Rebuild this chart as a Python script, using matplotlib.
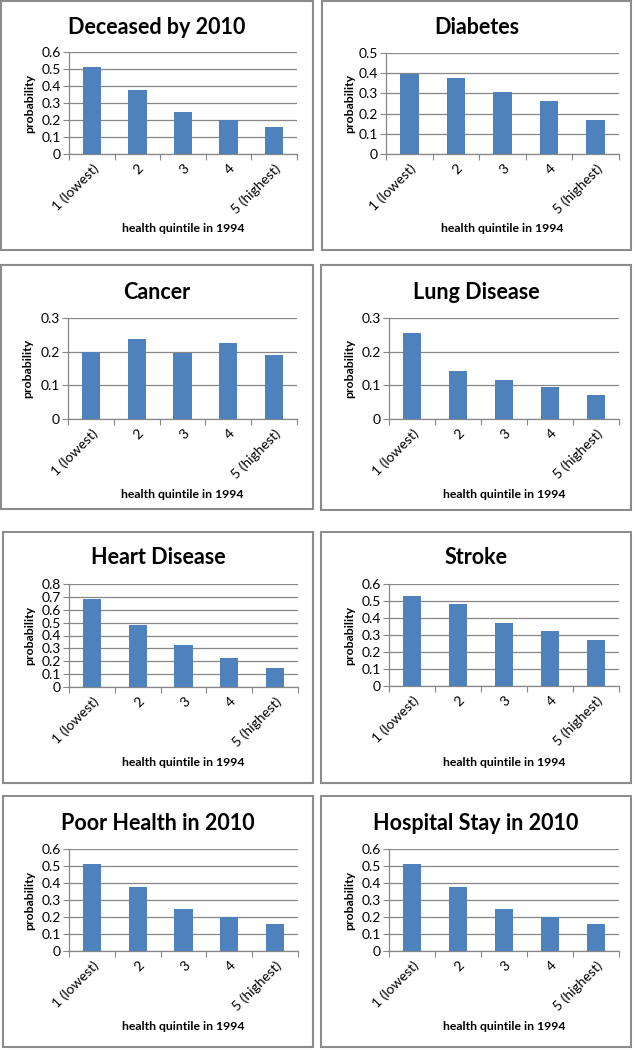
import matplotlib
matplotlib.use("Agg")
import matplotlib.pyplot as plt
from matplotlib.patches import Rectangle

plt.rcParams['font.family'] = ['Lato', 'DejaVu Sans']

# data
categories = ["1 (lowest)", "2", "3", "4", "5 (highest)"]
titles = ["Deceased by 2010", "Diabetes", "Cancer", "Lung Disease",
          "Heart Disease", "Stroke", "Poor Health in 2010", "Hospital Stay in 2010"]
deceased = [0.51, 0.375, 0.25, 0.20, 0.16]
diabetes = [0.397, 0.375, 0.305, 0.264, 0.167]
cancer = [0.198, 0.239, 0.195, 0.226, 0.191]
lung = [0.256, 0.142, 0.115, 0.094, 0.071]
heart = [0.685, 0.482, 0.323, 0.224, 0.146]
stroke = [0.531, 0.48, 0.37, 0.321, 0.272]
poor_health = [0.51, 0.375, 0.25, 0.20, 0.16]
hospital = [0.51, 0.375, 0.25, 0.20, 0.16]
series = [deceased, diabetes, cancer, lung, heart, stroke, poor_health, hospital]
ymax = [0.6, 0.5, 0.3, 0.3, 0.8, 0.6, 0.6, 0.6]
ystep = [0.1, 0.1, 0.1, 0.1, 0.1, 0.1, 0.1, 0.1]

W, H = 635, 1050
fig = plt.figure(figsize=(W / 100, H / 100), dpi=100)

# pixel layout: panel box, plot area, title / xlabel / ylabel positions
boxes = [(1, 1, 313, 250), (322, 1, 631, 250),
         (1, 265, 313, 509), (321, 265, 631, 510),
         (3, 532, 313, 783), (321, 532, 631, 783),
         (3, 796, 313, 1047), (321, 796, 631, 1047)]
plots = [(69, 52, 297, 154), (386, 53, 619, 154),
         (68, 318, 297, 419), (389, 318, 619, 419),
         (69, 584, 298, 687), (389, 584, 619, 686),
         (69, 849, 298, 951), (389, 849, 619, 951)]
title_y = [27, 27, 292, 292, 558, 558, 823, 823]
xlab_y = [229, 229, 494, 494, 762, 762, 1027, 1027]
ylab_x = [30, 350, 28, 350, 30, 350, 30, 350]

def fx(px):
    return px / W

def fy(py):
    return 1 - py / H

grid_c = '#878787'
for i in range(8):
    bx0, by0, bx1, by1 = boxes[i]
    fig.add_artist(Rectangle((fx(bx0), fy(by1)), fx(bx1) - fx(bx0), fy(by0) - fy(by1),
                             transform=fig.transFigure, fill=False,
                             edgecolor='#8c8c8c', linewidth=1.5))
    x0, y0, x1, y1 = plots[i]
    ax = fig.add_axes([fx(x0), fy(y1), fx(x1) - fx(x0), fy(y0) - fy(y1)])
    xs = list(range(len(categories)))
    ax.bar(xs, series[i], width=0.4, color='#4F81BD', zorder=3)
    ax.set_xlim(-0.5, 4.5)
    ax.set_ylim(0, ymax[i])
    n = int(round(ymax[i] / ystep[i]))
    yt = [round(k * ystep[i], 2) for k in range(n + 1)]
    ax.set_yticks(yt)
    ax.set_yticklabels(['0' if v == 0 else f'{v:g}' for v in yt])
    ax.yaxis.grid(True, color=grid_c, linewidth=0.9, zorder=0)
    ax.set_axisbelow(True)
    ax.set_xticks([k - 0.5 for k in range(6)])
    ax.set_xticklabels([])
    ax.set_xticks(xs, minor=True)
    ax.set_xticklabels(categories, minor=True, rotation=45, ha='right',
                       rotation_mode='anchor', fontsize=10)
    ax.tick_params(axis='x', which='major', length=4, color=grid_c, direction='out')
    ax.tick_params(axis='x', which='minor', length=0, pad=6)
    ax.tick_params(axis='y', length=4, color=grid_c, labelsize=10, pad=2)
    for s in ['top', 'right']:
        ax.spines[s].set_visible(False)
    for s in ['left', 'bottom']:
        ax.spines[s].set_color(grid_c)
        ax.spines[s].set_linewidth(0.9)

    fig.text(fx((bx0 + bx1) / 2), fy(title_y[i]), titles[i], ha='center', va='center',
             fontsize=15.5, fontweight='bold')
    fig.text(fx((x0 + x1) / 2), fy(xlab_y[i]), 'health quintile in 1994', ha='center',
             va='center', fontsize=8.8, fontweight='bold')
    fig.text(fx(ylab_x[i]), fy((y0 + y1) / 2), 'probability', ha='center', va='center',
             rotation=90, fontsize=8.8, fontweight='bold')

fig.savefig('out.png', dpi=100, facecolor='white')
